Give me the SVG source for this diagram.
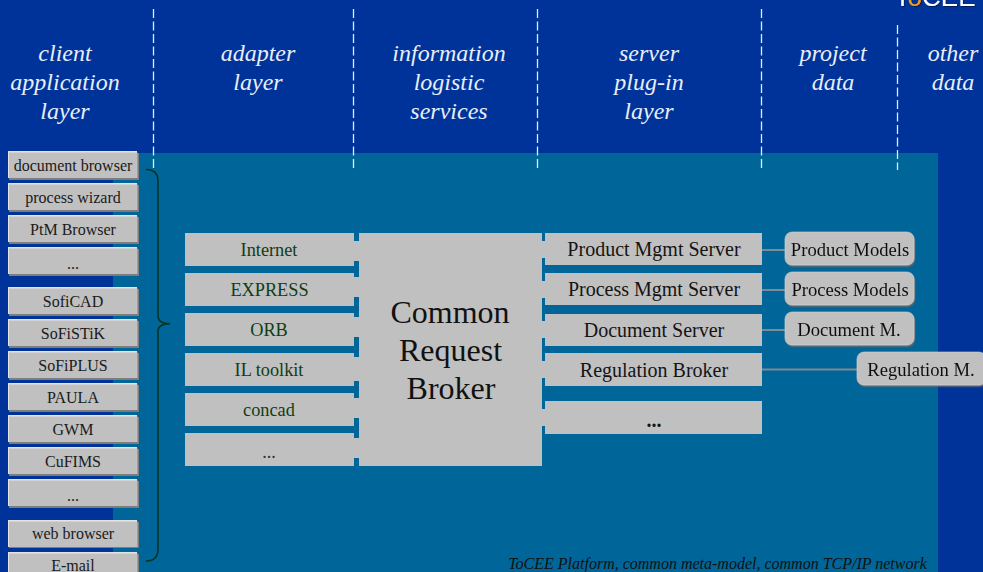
<svg xmlns="http://www.w3.org/2000/svg" width="983" height="572" viewBox="0 0 983 572">
<defs>
<style>
text{font-family:"Liberation Serif","Times New Roman",serif;text-anchor:middle}
.h{font-size:24px;font-style:italic;fill:#e8eef8}
.d{stroke:#dfecf4;stroke-width:1.300;stroke-dasharray:9 3.500;fill:none}
.cb{fill:#c0c0c0}
.hl{fill:#e4e4e4}
.sh{fill:#7d7d7d}
.ct{font-size:16px;fill:#1a1a1a}
.g{fill:#c0c0c0}
.a{font-size:18.300px;fill:#0f3d14}
.s{font-size:20px;fill:#141414}
.m{font-size:18.600px;fill:#111}
.mb{fill:#c0c0c0;stroke:#d4d4d4;stroke-width:.6}
.l{stroke:#7f8a92;stroke-width:2;fill:none}
.t{fill:#006699}
.logo{font-family:"Liberation Sans",Arial,sans-serif;font-size:26px;text-anchor:end}
</style>
<filter id="ds" x="-5%" y="-5%" width="110%" height="115%"><feDropShadow dx="0.800" dy="1.500" stdDeviation="0.300" flood-color="#6c6c6c"/></filter>
<filter id="lds" x="-5%" y="-50%" width="110%" height="200%"><feDropShadow dx="1" dy="1" stdDeviation="0.200" flood-color="#001a55"/></filter>
</defs>
<rect width="983" height="572" fill="#003399"/>
<rect x="113" y="153" width="825" height="419" fill="#006699"/>
<g id="logo" filter="url(#lds)"><text class="logo" x="975.500" y="5.500" fill="#fff">T<tspan fill="#f39c12">o</tspan>CEE</text></g>
<g id="layers">
<path class="d" d="M153.500 9V170M353.500 9V170M537.500 9V170M761.500 9V170M897.500 25V170"/>
<text class="h" x="65" y="61">client</text><text class="h" x="65" y="90">application</text><text class="h" x="65" y="119">layer</text>
<text class="h" x="258" y="61">adapter</text><text class="h" x="258" y="90">layer</text>
<text class="h" x="449" y="61">information</text><text class="h" x="449" y="90">logistic</text><text class="h" x="449" y="119">services</text>
<text class="h" x="649" y="61">server</text><text class="h" x="649" y="90">plug-in</text><text class="h" x="649" y="119">layer</text>
<text class="h" x="833" y="61">project</text><text class="h" x="833" y="90">data</text>
<text class="h" x="953" y="61">other</text><text class="h" x="953" y="90">data</text>
</g>
<g id="connectors">
<path d="M146 169.500Q158 169.500 158 181V316Q158 323.700 170 323.700Q158 323.700 158 331V549Q158 561 146 561" fill="none" stroke="#003322" stroke-width="1.500"/>
<path class="l" d="M762 250H785M762 290H785M762 330H785M762 369.500H857"/>
</g>
<g id="client-apps">
<g id="c1"><rect class="sh" x="9" y="153" width="130" height="27"/><rect class="hl" x="8" y="151" width="129" height="27"/><rect class="cb" x="9" y="152.500" width="128.500" height="25.500"/><text class="ct" x="73" y="171">document browser</text></g>
<g id="c2"><rect class="sh" x="9" y="185" width="130" height="27"/><rect class="hl" x="8" y="183" width="129" height="27"/><rect class="cb" x="9" y="184.500" width="128.500" height="25.500"/><text class="ct" x="73" y="203">process wizard</text></g>
<g id="c3"><rect class="sh" x="9" y="217" width="130" height="27"/><rect class="hl" x="8" y="215" width="129" height="27"/><rect class="cb" x="9" y="216.500" width="128.500" height="25.500"/><text class="ct" x="73" y="235">PtM Browser</text></g>
<g id="c4"><rect class="sh" x="9" y="249" width="130" height="27"/><rect class="hl" x="8" y="247" width="129" height="27"/><rect class="cb" x="9" y="248.500" width="128.500" height="25.500"/><text class="ct" x="73" y="269">...</text></g>
<g id="c5"><rect class="sh" x="9" y="289" width="130" height="27"/><rect class="hl" x="8" y="287" width="129" height="27"/><rect class="cb" x="9" y="288.500" width="128.500" height="25.500"/><text class="ct" x="73" y="307">SofiCAD</text></g>
<g id="c6"><rect class="sh" x="9" y="321" width="130" height="27"/><rect class="hl" x="8" y="319" width="129" height="27"/><rect class="cb" x="9" y="320.500" width="128.500" height="25.500"/><text class="ct" x="73" y="339">SoFiSTiK</text></g>
<g id="c7"><rect class="sh" x="9" y="353" width="130" height="27"/><rect class="hl" x="8" y="351" width="129" height="27"/><rect class="cb" x="9" y="352.500" width="128.500" height="25.500"/><text class="ct" x="73" y="371">SoFiPLUS</text></g>
<g id="c8"><rect class="sh" x="9" y="385" width="130" height="27"/><rect class="hl" x="8" y="383" width="129" height="27"/><rect class="cb" x="9" y="384.500" width="128.500" height="25.500"/><text class="ct" x="73" y="403">PAULA</text></g>
<g id="c9"><rect class="sh" x="9" y="417" width="130" height="27"/><rect class="hl" x="8" y="415" width="129" height="27"/><rect class="cb" x="9" y="416.500" width="128.500" height="25.500"/><text class="ct" x="73" y="435">GWM</text></g>
<g id="c10"><rect class="sh" x="9" y="449" width="130" height="27"/><rect class="hl" x="8" y="447" width="129" height="27"/><rect class="cb" x="9" y="448.500" width="128.500" height="25.500"/><text class="ct" x="73" y="467">CuFIMS</text></g>
<g id="c11"><rect class="sh" x="9" y="481" width="130" height="27"/><rect class="hl" x="8" y="479" width="129" height="27"/><rect class="cb" x="9" y="480.500" width="128.500" height="25.500"/><text class="ct" x="73" y="501">...</text></g>
<g id="c12"><rect class="sh" x="9" y="522" width="130" height="26"/><rect class="hl" x="8" y="520" width="129" height="27"/><rect class="cb" x="9" y="521.500" width="128.500" height="25.500"/><text class="ct" x="73" y="539">web browser</text></g>
<g id="c13"><rect class="sh" x="9" y="554" width="130" height="27"/><rect class="hl" x="8" y="552" width="129" height="27"/><rect class="cb" x="9" y="553.500" width="128.500" height="25.500"/><text class="ct" x="73" y="571">E-mail</text></g>
</g>
<g id="broker">
<rect class="g" x="354" y="233" width="191" height="233"/>
<path class="t" d="M354 233h5v8h-5zM354 261h5v16h-5zM354 297h5v20h-5zM354 337h5v20h-5zM354 381h5v17h-5zM354 418h5v20h-5zM354 458h5v8h-5z"/>
<path class="t" d="M542 233h3v8h-3zM542 258h3v23h-3zM542 298h3v23h-3zM542 338h3v23h-3zM542 378h3v31h-3zM542 426h3v40h-3z"/>
<text x="450" y="323" font-size="32" fill="#111">Common</text><text x="450.500" y="361" font-size="32" fill="#111">Request</text><text x="451" y="399" font-size="32" fill="#111">Broker</text>
</g>
<g id="adapter-internet"><rect class="g" x="185" y="233" width="169" height="33"/><text class="a" x="269" y="256">Internet</text></g>
<g id="adapter-express"><rect class="g" x="185" y="273" width="169" height="33"/><text class="a" x="269.500" y="296">EXPRESS</text></g>
<g id="adapter-orb"><rect class="g" x="185" y="313" width="169" height="33"/><text class="a" x="269" y="336">ORB</text></g>
<g id="adapter-il"><rect class="g" x="185" y="353" width="169" height="33"/><text class="a" x="269" y="376">IL toolkit</text></g>
<g id="adapter-concad"><rect class="g" x="185" y="393" width="169" height="33"/><text class="a" x="269" y="416">concad</text></g>
<g id="adapter-more"><rect class="g" x="185" y="433" width="169" height="33"/><text class="a" x="269" y="458" style="fill:#333">...</text></g>
<g id="server-product"><rect class="g" x="545" y="233" width="217" height="32"/><text class="s" x="654" y="256">Product Mgmt Server</text></g>
<g id="server-process"><rect class="g" x="545" y="273" width="217" height="32"/><text class="s" x="654" y="296">Process Mgmt Server</text></g>
<g id="server-document"><rect class="g" x="545" y="314" width="217" height="32"/><text class="s" x="654" y="337">Document Server</text></g>
<g id="server-regulation"><rect class="g" x="545" y="353" width="217" height="33"/><text class="s" x="654" y="377">Regulation Broker</text></g>
<g id="server-more"><rect class="g" x="545" y="401" width="217" height="33"/><text class="s" x="654" y="427" font-weight="bold">...</text></g>
<g id="model-product" filter="url(#ds)"><rect class="mb" x="785" y="232" width="129" height="33" rx="7"/><text class="m" x="850" y="256">Product Models</text></g>
<g id="model-process" filter="url(#ds)"><rect class="mb" x="785" y="272" width="129" height="33" rx="7"/><text class="m" x="850" y="296">Process Models</text></g>
<g id="model-document" filter="url(#ds)"><rect class="mb" x="785" y="312" width="129" height="33" rx="7"/><text class="m" x="849" y="336">Document M.</text></g>
<g id="model-regulation" filter="url(#ds)"><rect class="mb" x="857" y="352" width="129" height="33" rx="7"/><text class="m" x="921" y="376">Regulation M.</text></g>
<text x="717.500" y="568.500" font-size="16" font-style="italic" fill="#101010">ToCEE Platform, common meta-model, common TCP/IP network</text>
</svg>
